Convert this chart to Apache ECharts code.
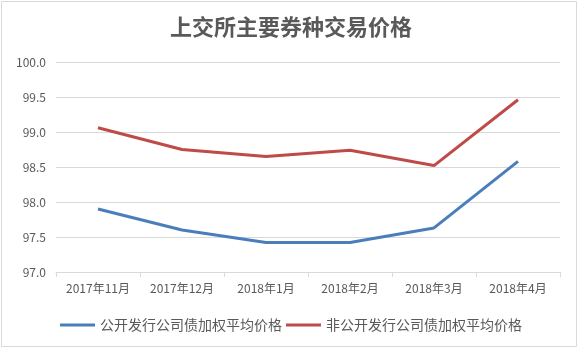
<!DOCTYPE html>
<html>
<head>
<meta charset="utf-8">
<script src="https://cdn.jsdelivr.net/npm/echarts@6/dist/echarts.min.js"></script>
<style>
  html, body { margin: 0; padding: 0; background: #fff; }
  #chart { width: 582px; height: 351px; }
</style>
</head>
<body>
<div id="chart"></div>
<script>
// 数据
const months = ['2017年11月', '2017年12月', '2018年1月', '2018年2月', '2018年3月', '2018年4月']
const publicPrice = [97.90, 97.60, 97.42, 97.42, 97.63, 98.58]
const privatePrice = [99.06, 98.75, 98.65, 98.74, 98.52, 99.46]

const font = '"Noto Sans CJK SC", "Microsoft YaHei", sans-serif'

const option = {
  backgroundColor: '#fff',
  animation: false,
  title: {
    text: '上交所主要券种交易价格',
    left: 'center',
    top: 11,
    textStyle: {
      fontFamily: font,
      fontSize: 22,
      fontWeight: 'bold',
      color: '#595959'
    }
  },
  graphic: [{
    type: 'rect',
    shape: { x: 1.5, y: 1.5, width: 575, height: 345 },
    style: { fill: 'none', stroke: '#d9d9d9', lineWidth: 1 },
    silent: true
  }],
  legend: {
    bottom: 14,
    left: 'center',
    itemWidth: 35,
    itemHeight: 3,
    itemGap: 4,
    icon: 'rect',
    textStyle: { fontFamily: font, fontSize: 14, color: '#595959' },
    data: ['公开发行公司债加权平均价格', '非公开发行公司债加权平均价格']
  },
  grid: {
    left: 56,
    right: 22,
    top: 62,
    bottom: 79
  },
  xAxis: {
    type: 'category',
    boundaryGap: true,
    data: months,
    axisLine: { lineStyle: { color: '#d9d9d9' } },
    axisTick: { show: true, length: 5, lineStyle: { color: '#d9d9d9' } },
    axisLabel: { fontFamily: font, fontSize: 12, color: '#595959', margin: 10, interval: 0 }
  },
  yAxis: {
    type: 'value',
    min: 97,
    max: 100,
    interval: 0.5,
    axisLine: { show: false },
    axisTick: { show: false },
    axisLabel: {
      fontFamily: font, fontSize: 12, color: '#595959', margin: 10,
      formatter: v => v.toFixed(1)
    },
    splitLine: { lineStyle: { color: '#d9d9d9' } }
  },
  series: [
    {
      name: '公开发行公司债加权平均价格',
      type: 'line',
      data: publicPrice,
      symbol: 'none',
      color: '#4a7ebb',
      lineStyle: { width: 3, color: '#4a7ebb' }
    },
    {
      name: '非公开发行公司债加权平均价格',
      type: 'line',
      data: privatePrice,
      symbol: 'none',
      color: '#be4b48',
      lineStyle: { width: 3, color: '#be4b48' }
    }
  ]
}

let chart = echarts.init(document.getElementById('chart'))
chart.setOption(option)
</script>
</body>
</html>
